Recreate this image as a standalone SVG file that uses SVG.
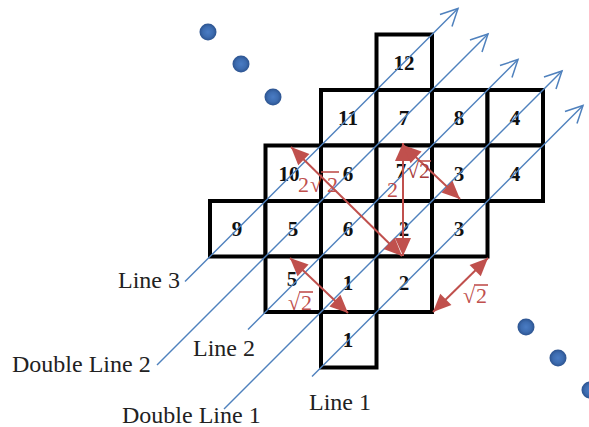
<svg xmlns="http://www.w3.org/2000/svg" width="589" height="427" viewBox="0 0 589 427">
<defs>
<marker id="bArr" markerUnits="userSpaceOnUse" markerWidth="40" markerHeight="40" viewBox="-25 -20 40 40" refX="0" refY="0" orient="auto">
<path d="M -17 -8.5 L 0 0 L -17 8.5" fill="none" stroke="#4f81bd" stroke-width="1.5"/>
</marker>
<marker id="rArr" markerUnits="userSpaceOnUse" markerWidth="40" markerHeight="40" viewBox="-25 -20 40 40" refX="0" refY="0" orient="auto-start-reverse">
<path d="M -18 -8 L 0 0 L -18 8 Z" fill="#c0504d"/>
</marker>
<radialGradient id="dotG" cx="0.5" cy="0.5" r="0.5">
<stop offset="0" stop-color="#4a7cc4"/>
<stop offset="0.6" stop-color="#3d6cb0"/>
<stop offset="1" stop-color="#2c538f"/>
</radialGradient>
</defs>
<style>
.cell rect{fill:#fff;stroke:#000;stroke-width:4}
.num{font-family:"Liberation Serif",serif;font-weight:bold;font-size:21px;text-anchor:middle;fill:#111}
.lbl{font-family:"Liberation Serif",serif;font-size:24px;fill:#222}
.blue{stroke:#4f81bd;stroke-width:1.4;fill:none;marker-end:url(#bArr)}
.red{stroke:#c0504d;stroke-width:2;fill:none;marker-start:url(#rArr);marker-end:url(#rArr)}
.rt{font-family:"Liberation Serif",serif;font-size:22px;fill:#c0504d}
.dk{fill:#a83c3a}
.vinc{stroke:#c0504d;stroke-width:1.6}
.dot{fill:url(#dotG)}
</style>
<rect width="589" height="427" fill="#fff"/>
<g id="dots">
<circle class="dot" cx="208" cy="32" r="8.5"/>
<circle class="dot" cx="241" cy="64" r="8.5"/>
<circle class="dot" cx="273" cy="97" r="8.5"/>
<circle class="dot" cx="526" cy="327" r="8.5"/>
<circle class="dot" cx="558" cy="358" r="8.5"/>
<circle class="dot" cx="590" cy="390" r="8.5"/>
</g>
<g id="grid">
<g id="c12" class="cell"><rect x="376.5" y="34.5" width="55.5" height="55.5"/></g>
<g id="c11" class="cell"><rect x="321" y="90" width="55.5" height="55.5"/></g>
<g id="c7a" class="cell"><rect x="376.5" y="90" width="55.5" height="55.5"/></g>
<g id="c8" class="cell"><rect x="432" y="90" width="55.5" height="55.5"/></g>
<g id="c4a" class="cell"><rect x="487.5" y="90" width="55.5" height="55.5"/></g>
<g id="c10" class="cell"><rect x="265.5" y="145.5" width="55.5" height="55.5"/></g>
<g id="c6a" class="cell"><rect x="321" y="145.5" width="55.5" height="55.5"/></g>
<g id="c7b" class="cell"><rect x="376.5" y="145.5" width="55.5" height="55.5"/></g>
<g id="c3a" class="cell"><rect x="432" y="145.5" width="55.5" height="55.5"/></g>
<g id="c4b" class="cell"><rect x="487.5" y="145.5" width="55.5" height="55.5"/></g>
<g id="c9" class="cell"><rect x="210" y="201" width="55.5" height="55.5"/></g>
<g id="c5a" class="cell"><rect x="265.5" y="201" width="55.5" height="55.5"/></g>
<g id="c6b" class="cell"><rect x="321" y="201" width="55.5" height="55.5"/></g>
<g id="c2a" class="cell"><rect x="376.5" y="201" width="55.5" height="55.5"/></g>
<g id="c3b" class="cell"><rect x="432" y="201" width="55.5" height="55.5"/></g>
<g id="c5b" class="cell"><rect x="265.5" y="256.5" width="55.5" height="55.5"/></g>
<g id="c1a" class="cell"><rect x="321" y="256.5" width="55.5" height="55.5"/></g>
<g id="c2b" class="cell"><rect x="376.5" y="256.5" width="55.5" height="55.5"/></g>
<g id="c1b" class="cell"><rect x="321" y="312" width="55.5" height="55.5"/></g>
</g>
<g id="numbers">
<text class="num" x="404" y="70">12</text>
<text class="num" x="348" y="125">11</text>
<text class="num" x="404" y="125">7</text>
<text class="num" x="459" y="125">8</text>
<text class="num" x="515" y="125">4</text>
<text class="num" x="289" y="181">10</text>
<text class="num" x="348" y="181">6</text>
<text class="num" x="401" y="178">7</text>
<text class="num" x="459" y="181">3</text>
<text class="num" x="515" y="181">4</text>
<text class="num" x="237" y="236">9</text>
<text class="num" x="293" y="236">5</text>
<text class="num" x="348" y="236">6</text>
<text class="num" x="404" y="236">2</text>
<text class="num" x="459" y="236">3</text>
<text class="num" x="292" y="286">5</text>
<text class="num" x="348" y="290">1</text>
<text class="num" x="404" y="290">2</text>
<text class="num" x="348" y="347">1</text>
</g>
<g id="connectors">
<line class="blue" x1="185" y1="281.5" x2="458" y2="8.5"/>
<line class="blue" x1="157" y1="365" x2="488" y2="34"/>
<line class="blue" x1="248" y1="329.5" x2="518" y2="59.5"/>
<line class="blue" x1="224" y1="409" x2="562" y2="71"/>
<line class="blue" x1="312" y1="376.5" x2="583" y2="105.5"/>
<line class="red" x1="291" y1="147" x2="402" y2="256"/>
<line class="red" x1="403" y1="143" x2="403" y2="256"/>
<line class="red" x1="403" y1="145" x2="460" y2="199"/>
<line class="red" x1="290" y1="258" x2="348" y2="313"/>
<line class="red" x1="488" y1="258" x2="433" y2="312"/>
</g>
<g id="red-labels">
<text class="rt" x="298" y="192">2</text>
<text class="rt" x="310" y="192">√</text>
<text class="rt" x="327" y="192">2</text>
<line class="vinc" x1="321" y1="172" x2="339" y2="172"/>
<text class="rt" x="387" y="197">2</text>
<text class="rt dk" x="407" y="178">√</text>
<text class="rt dk" x="419" y="178">2</text>
<line class="vinc" x1="418" y1="161" x2="431" y2="161"/>
<text class="rt" x="288" y="310">√</text>
<text class="rt" x="301" y="310">2</text>
<line class="vinc" x1="299" y1="292" x2="313" y2="292"/>
<text class="rt" x="463" y="303">√</text>
<text class="rt" x="476" y="303">2</text>
<line class="vinc" x1="474" y1="285" x2="488" y2="285"/>
</g>
<g id="line-labels">
<text class="lbl" x="118" y="288">Line 3</text>
<text class="lbl" x="12" y="372">Double Line 2</text>
<text class="lbl" x="193" y="356">Line 2</text>
<text class="lbl" x="122" y="423">Double Line 1</text>
<text class="lbl" x="309" y="410">Line 1</text>
</g>
</svg>
